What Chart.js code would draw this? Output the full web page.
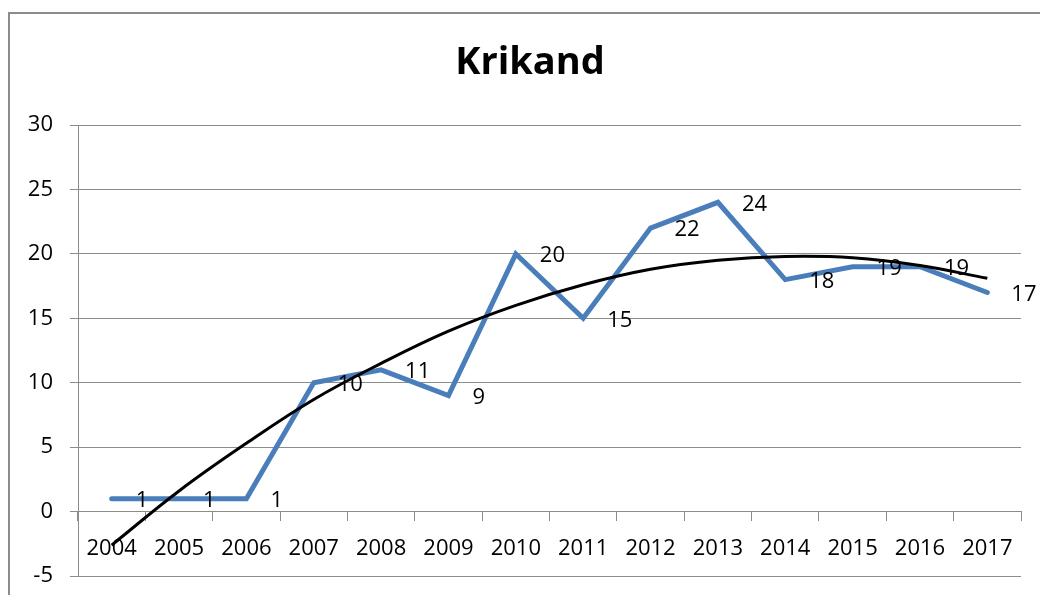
<!DOCTYPE html>
<html><head><meta charset="utf-8">
<script src="https://cdn.jsdelivr.net/npm/chart.js@4/dist/chart.umd.min.js"></script>
<style>html,body{margin:0;padding:0;background:#fff}#wrap{width:1040px;height:595px;position:relative}</style>
</head><body><div id="wrap"><canvas id="c" width="1040" height="595"></canvas></div>
<script>
const titleText = 'Krikand';
const years = ['2004','2005','2006','2007','2008','2009','2010','2011','2012','2013','2014','2015','2016','2017'];
const values = [1, 1, 1, 10, 11, 9, 20, 15, 22, 24, 18, 19, 19, 17];
const trendValues = [-2.6, 1.6, 5.3, 8.7, 11.5, 14.0, 16.0, 17.6, 18.8, 19.5, 19.8, 19.7, 19.1, 18.1];
const yMin = -5, yMax = 30, yStep = 5;

const FONT = "'Open Sans', 'Liberation Sans', sans-serif";

const framePlugin = {
  id: 'frame',
  beforeDraw(chart) {
    const ctx = chart.ctx;
    ctx.save();
    ctx.fillStyle = '#fff';
    ctx.fillRect(0, 0, chart.width, chart.height);
    ctx.strokeStyle = '#8c8c8c';
    ctx.lineWidth = 2;
    ctx.strokeRect(9, 13, 1100, 700);
    // chart title, centred on the framed chart box
    ctx.fillStyle = '#000';
    ctx.font = "bold 38px " + FONT;
    ctx.textAlign = 'center';
    ctx.textBaseline = 'middle';
    ctx.fillText(titleText, 530, 63);
    ctx.restore();
  }
};

const labelPlugin = {
  id: 'valueLabels',
  afterDatasetsDraw(chart) {
    const ctx = chart.ctx;
    const meta = chart.getDatasetMeta(1);
    ctx.save();
    ctx.font = "22px " + FONT;
    ctx.fillStyle = '#000';
    ctx.textAlign = 'left';
    ctx.textBaseline = 'middle';
    meta.data.forEach((pt, i) => {
      ctx.fillText(String(values[i]), pt.x + 24, pt.y + 2);
    });
    ctx.restore();
  }
};

new Chart(document.getElementById('c'), {
  type: 'line',
  data: {
    labels: years,
    datasets: [
      {
        label: 'Trend',
        data: trendValues,
        borderColor: '#000',
        borderWidth: 3,
        pointRadius: 0,
        tension: 0.4,
        fill: false
      },
      {
        label: titleText,
        data: values,
        borderColor: '#4a7ebb',
        borderWidth: 5,
        borderCapStyle: 'round',
        pointRadius: 0,
        tension: 0,
        fill: false
      }
    ]
  },
  options: {
    responsive: false,
    animation: false,
    devicePixelRatio: 1,
    layout: { padding: { left: 0, right: 19, bottom: 19, top: 125 } },
    plugins: {
      legend: { display: false },
      tooltip: { enabled: false },
      title: { display: false }
    },
    scales: {
      x: {
        type: 'category',
        position: { y: 0 },
        offset: true,
        grid: { offset: true, drawOnChartArea: false, drawTicks: true, tickLength: 9, color: '#8c8c8c', lineWidth: 1 },
        border: { display: true, color: '#8c8c8c', width: 1 },
        ticks: { color: '#000', font: { family: FONT, size: 22 }, padding: 15, maxRotation: 0, autoSkip: false },
        afterFit(s) { s.height = 0; s.paddingTop = 0; s.paddingBottom = 0; }
      },
      y: {
        min: yMin,
        max: yMax,
        ticks: { stepSize: yStep, color: '#000', font: { family: FONT, size: 22 }, padding: 17 },
        grid: { color: '#8c8c8c', lineWidth: 1, tickLength: 8 },
        border: { display: true, color: '#8c8c8c', width: 1 },
        afterFit(s) { s.width = 78; s.paddingTop = 0; s.paddingBottom = 0; }
      }
    }
  },
  plugins: [framePlugin, labelPlugin]
});
</script></body></html>
